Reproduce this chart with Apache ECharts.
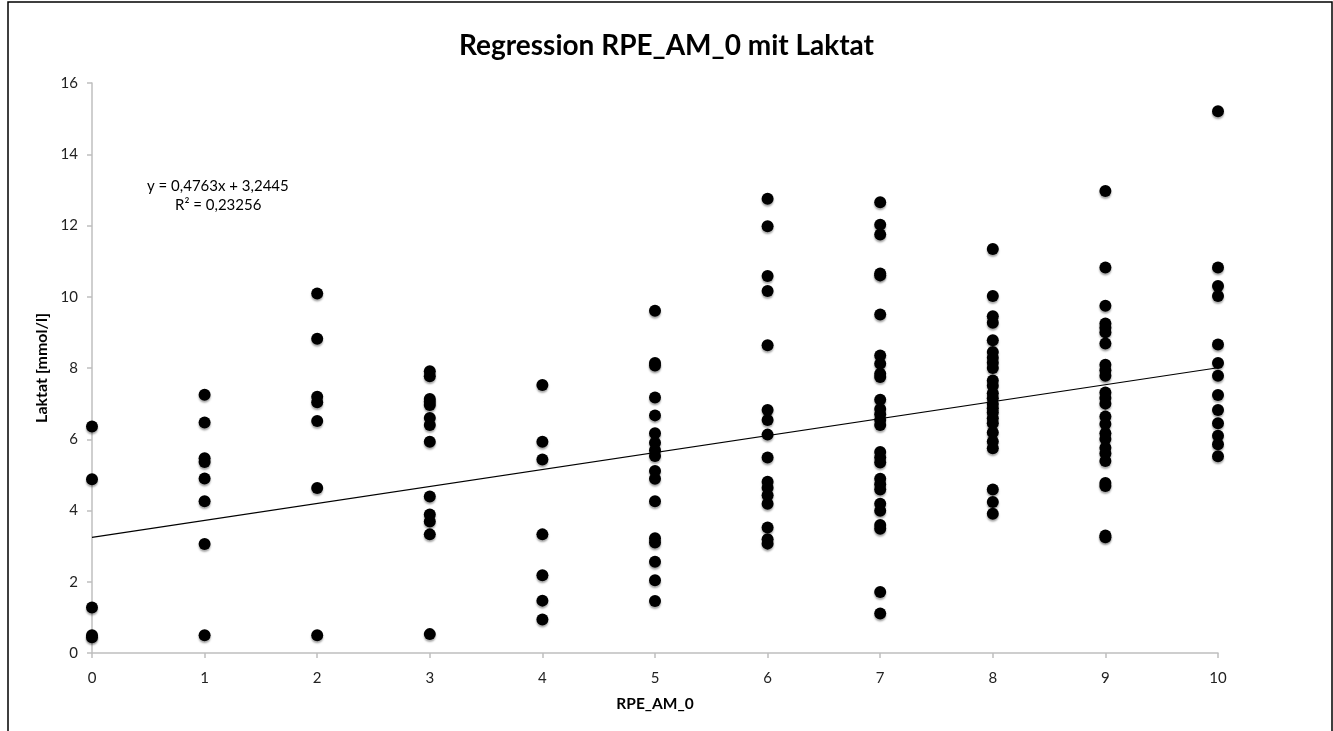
<!DOCTYPE html>
<html>
<head>
<meta charset="utf-8">
<script src="https://cdn.jsdelivr.net/npm/echarts@6/dist/echarts.min.js"></script>
<style>
  html, body { margin: 0; padding: 0; background: #fff; }
  #chart { width: 1333px; height: 731px; }
</style>
</head>
<body>
<div id="chart"></div>
<script>
// RPE values (x) and lactate readings (y) per RPE level
const rpeLevels = [0, 1, 2, 3, 4, 5, 6, 7, 8, 9, 10];
const lactate0 = [6.36, 4.88, 1.28, 0.5, 0.44];
const lactate1 = [7.25, 6.47, 5.47, 5.36, 4.9, 4.26, 3.06, 0.5];
const lactate2 = [10.09, 8.82, 7.19, 7.04, 6.51, 4.63, 0.5];
const lactate3 = [7.91, 7.77, 7.13, 7.05, 6.96, 6.60, 6.40, 5.93, 4.39, 3.89, 3.69, 3.33, 0.53];
const lactate4 = [7.52, 5.93, 5.43, 3.33, 2.18, 1.47, 0.94];
const lactate5 = [9.61, 8.14, 8.07, 7.17, 6.67, 6.17, 5.90, 5.69, 5.53, 5.11, 4.89, 4.26, 3.22, 3.10, 2.56, 2.04, 1.46];
const lactate6 = [12.75, 11.98, 10.58, 10.16, 8.64, 6.82, 6.54, 6.13, 5.49, 4.81, 4.64, 4.43, 4.19, 3.52, 3.19, 3.07];
const lactate7 = [12.65, 12.02, 11.75, 10.65, 10.6, 9.50, 8.35, 8.12, 7.84, 7.75, 7.11, 6.85, 6.70, 6.54, 6.40, 5.64, 5.49, 5.35, 4.89, 4.74, 4.59, 4.19, 3.99, 3.59, 3.49, 1.71, 1.11];
const lactate8 = [11.34, 10.02, 9.45, 9.27, 8.78, 8.45, 8.29, 8.15, 8.0, 7.65, 7.50, 7.29, 7.15, 6.99, 6.87, 6.75, 6.59, 6.45, 6.19, 5.94, 5.75, 4.59, 4.24, 3.91];
const lactate9 = [12.97, 10.82, 9.75, 9.25, 9.13, 9.0, 8.69, 8.09, 7.94, 7.78, 7.31, 7.16, 7.0, 6.64, 6.43, 6.17, 6.01, 5.76, 5.60, 5.39, 4.77, 4.69, 3.30, 3.25];
const lactate10 = [15.21, 10.82, 10.30, 10.02, 8.66, 8.14, 7.78, 7.24, 6.82, 6.45, 6.10, 5.86, 5.52];

// Trendline from the equation shown in the chart
const trendSlope = 0.4763;
const trendIntercept = 3.2445;
const trendX = [0, 10];

const xTicks = [0, 1, 2, 3, 4, 5, 6, 7, 8, 9, 10];
const yTicks = [0, 2, 4, 6, 8, 10, 12, 14, 16];

const titleText = 'Regression RPE_AM_0 mit Laktat';
const eqLine1 = 'y = 0,4763x + 3,2445';
const eqLine2 = 'R\u00B2 = 0,23256';

const columns = [lactate0, lactate1, lactate2, lactate3, lactate4, lactate5, lactate6, lactate7, lactate8, lactate9, lactate10];
const points = [];
columns.forEach((col, i) => col.forEach(v => points.push([rpeLevels[i], v])));
const trendData = trendX.map(x => [x, trendIntercept + trendSlope * x]);

const FONT = 'Lato';
const chart = echarts.init(document.getElementById('chart'), null, { renderer: 'canvas' });
chart.setOption({
  backgroundColor: '#ffffff',
  animation: false,
  title: {
    text: titleText,
    left: 'center',
    top: 27,
    textStyle: { fontFamily: FONT, fontWeight: 'bold', fontSize: 28, color: '#000' }
  },
  grid: { left: 92, right: 115, top: 83, bottom: 78, containLabel: false },
  xAxis: {
    type: 'value',
    min: xTicks[0],
    max: xTicks[xTicks.length - 1],
    interval: 1,
    name: 'RPE_AM_0',
    nameLocation: 'middle',
    nameGap: 43,
    nameTextStyle: { fontFamily: FONT, fontWeight: 'bold', fontSize: 15.5, color: '#000' },
    axisLine: { show: true, lineStyle: { color: '#bfbfbf', width: 1.5 } },
    axisTick: { show: true, length: 5, lineStyle: { color: '#bfbfbf', width: 1.5 } },
    axisLabel: { margin: 18, fontFamily: FONT, fontSize: 15, color: '#222' },
    splitLine: { show: false }
  },
  yAxis: {
    type: 'value',
    min: yTicks[0],
    max: yTicks[yTicks.length - 1],
    interval: 2,
    name: 'Laktat [mmol/l]',
    nameLocation: 'middle',
    nameGap: 40,
    nameRotate: 90,
    nameTextStyle: { fontFamily: FONT, fontWeight: 'bold', fontSize: 16, color: '#000' },
    axisLine: { show: true, lineStyle: { color: '#bfbfbf', width: 1.5 } },
    axisTick: { show: true, length: 5, lineStyle: { color: '#bfbfbf', width: 1.5 } },
    axisLabel: { margin: 14, fontFamily: FONT, fontSize: 15, color: '#222' },
    splitLine: { show: false }
  },
  series: [
    {
      type: 'line',
      data: trendData,
      showSymbol: false,
      symbol: 'none',
      lineStyle: { color: '#000', width: 1.2 },
      z: 3,
      silent: true
    },
    {
      type: 'scatter',
      data: points,
      symbol: 'circle',
      symbolSize: 12,
      itemStyle: {
        color: '#000',
        opacity: 1,
        shadowBlur: 2,
        shadowColor: 'rgba(0,0,0,0.35)',
        shadowOffsetY: 2
      },
      z: 4
    }
  ],
  graphic: [
    {
      type: 'rect',
      shape: { x: 8, y: 2, width: 1324, height: 740 },
      style: { fill: 'none', stroke: '#000', lineWidth: 1.5 },
      silent: true
    },
    {
      type: 'text',
      left: 147,
      top: 179,
      style: { text: eqLine1, font: '15px ' + FONT, fill: '#000' }
    },
    {
      type: 'text',
      left: 175,
      top: 198,
      style: { text: eqLine2, font: '15px ' + FONT, fill: '#000' }
    }
  ]
});
</script>
</body>
</html>
